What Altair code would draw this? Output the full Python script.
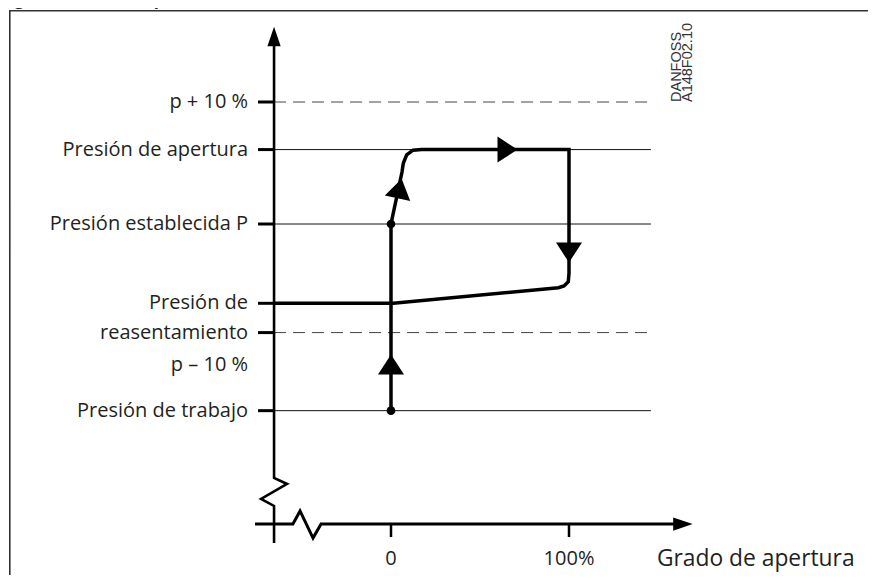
import altair as alt
import pandas as pd

# ---------------- data (x: % opening, y: % of set pressure P) ----------------
X_DOMAIN = [-215.17, 267.98]
Y_DOMAIN = [71.23, 117.705]

label_texts = ["p + 10 %", "Presión de apertura", "Presión establecida P",
               "Presión de", "reasentamiento", "p – 10 %", "Presión de trabajo"]
label_y = [110, 106.1, 100, 93.5, 91.1, 88.44, 84.7]
label_x = -80.3

tick_y = [110, 106.1, 100, 93.5, 91.1, 84.7]

solid_levels = [106.1, 100, 84.7]
dashed_levels = [110, 91.1]
guide_x0 = -65.7
guide_x1 = 146.0

# process curve
proc_x = [0, 0, 6.18, 6.91, 8.82, 12.36, 17.25, 100, 100, 99.6, 97.19, 93.99, 1.29, -65.7]
proc_y = [84.7, 100, 104.26, 104.98, 105.66, 106.05, 106.1, 106.1, 95.96, 95.27, 94.92, 94.78, 93.5, 93.5]

dot_x = [0, 0]
dot_y = [100, 84.7]

arrow_x = [0, 4.83, 65.45, 100]
arrow_y = [88.48, 102.91, 106.1, 97.66]
arrow_angle = [0, 12, 90, 180]

# axes (with break marks)
yaxis_x = [-65.7, -65.7, -58.4, -73.0, -65.7, -65.7]
yaxis_y = [114.8, 79.18, 78.69, 77.46, 76.89, 73.85]
xaxis_x = [-76.4, -55.1, -51.1, -43.8, -39.3, 160.0]
xaxis_y = [75.41, 75.41, 76.48, 74.26, 75.41, 75.41]
axis_arrow_x = [-65.7, 164.0]
axis_arrow_y = [115.37, 75.41]
axis_arrow_angle = [0, 90]

xtick_x = [0, 100]
xtick_labels = ["0", "100%"]
xtick_y0, xtick_y1 = 75.41, 74.34
xlabel_y = 72.54
ytick_x0, ytick_x1 = -74.7, -65.7

x_title = "Grado de apertura"
x_title_x = 149.4

stamp_lines = ["DANFOSS", "A148F02.10"]
stamp_x = [160.4, 166.9]
stamp_y = [110, 110]

title_text = "Figura 1: Alivio de presión SFA"

FONT = "Open Sans"
INK = "#231f20"

# ---------------- helpers ----------------
def X(f="x"):
    return alt.X(f"{f}:Q", scale=alt.Scale(domain=X_DOMAIN, nice=False, zero=False), axis=None)

def Y(f="y"):
    return alt.Y(f"{f}:Q", scale=alt.Scale(domain=Y_DOMAIN, nice=False, zero=False), axis=None)

def polyline(xs, ys, **kw):
    df = pd.DataFrame({"x": xs, "y": ys, "o": range(len(xs))})
    return alt.Chart(df).mark_line(color="black", **kw).encode(x=X(), y=Y(), order="o:Q")

# frame
frame = alt.Chart(pd.DataFrame({"a": [0]})).mark_rect(
    fill=None, stroke="#333333", strokeWidth=1.6
).encode(x=alt.value(1.8), x2=alt.value(900), y=alt.value(2.8), y2=alt.value(640))

# guides
solid_df = pd.DataFrame({"y": solid_levels, "x": guide_x0, "x2": guide_x1})
dashed_df = pd.DataFrame({"y": dashed_levels, "x": guide_x0, "x2": guide_x1 + 1})
solid = alt.Chart(solid_df).mark_rule(color="#111111", strokeWidth=1).encode(
    x=X(), x2="x2:Q", y=Y())
dashed = alt.Chart(dashed_df).mark_rule(color="#444444", strokeWidth=1, strokeDash=[12, 7]).encode(
    x=X(), x2="x2:Q", y=Y())

# y ticks
yt_df = pd.DataFrame({"y": tick_y, "x": ytick_x0, "x2": ytick_x1})
yticks = alt.Chart(yt_df).mark_rule(color="black", strokeWidth=3).encode(x=X(), x2="x2:Q", y=Y())

# x ticks
xt_df = pd.DataFrame({"x": xtick_x, "y": xtick_y0, "y2": xtick_y1})
xticks = alt.Chart(xt_df).mark_rule(color="black", strokeWidth=2.5).encode(x=X(), y=Y(), y2="y2:Q")

# axes
yaxis = polyline(yaxis_x, yaxis_y, strokeWidth=2.6)
xaxis = polyline(xaxis_x, xaxis_y, strokeWidth=3)

axis_arrows = alt.Chart(pd.DataFrame({"x": axis_arrow_x, "y": axis_arrow_y, "a": axis_arrow_angle})).mark_point(
    shape="M0,-1L0.68,1L-0.68,1Z", size=380, filled=True, color="black", opacity=1, strokeWidth=0
).encode(x=X(), y=Y(), angle=alt.Angle("a:Q", scale=None))

# process
proc = polyline(proc_x, proc_y, strokeWidth=3.5)
dots = alt.Chart(pd.DataFrame({"x": dot_x, "y": dot_y})).mark_circle(
    size=75, color="black", opacity=1).encode(x=X(), y=Y())
arrows = alt.Chart(pd.DataFrame({"x": arrow_x, "y": arrow_y, "a": arrow_angle})).mark_point(
    shape="M0,-0.77L1,0.77L-1,0.77Z", size=676, filled=True, color="black", opacity=1, strokeWidth=0
).encode(x=X(), y=Y(), angle=alt.Angle("a:Q", scale=None))

# labels
lab_df = pd.DataFrame({"t": label_texts, "y": label_y, "x": label_x})
labels = alt.Chart(lab_df).mark_text(
    align="right", baseline="middle", font=FONT, fontSize=20, color=INK
).encode(x=X(), y=Y(), text="t:N")

xl_df = pd.DataFrame({"t": xtick_labels, "x": xtick_x, "y": xlabel_y})
xlabels = alt.Chart(xl_df).mark_text(
    align="center", baseline="middle", font=FONT, fontSize=20, color=INK
).encode(x=X(), y=Y(), text="t:N")

xt_title = alt.Chart(pd.DataFrame({"t": [x_title], "x": [x_title_x], "y": [xlabel_y]})).mark_text(
    align="left", baseline="middle", font=FONT, fontSize=22.8, color=INK
).encode(x=X(), y=Y(), text="t:N")

stamp = alt.Chart(pd.DataFrame({"t": stamp_lines, "x": stamp_x, "y": stamp_y})).mark_text(
    align="left", baseline="middle", angle=270, font="Liberation Sans Narrow, Liberation Sans",
    fontSize=14.5, color="#333333"
).encode(x=X(), y=Y(), text="t:N")

title = alt.Chart(pd.DataFrame({"t": [title_text]})).mark_text(
    align="left", baseline="alphabetic", font=FONT, fontWeight="bold", fontSize=17, color=INK
).encode(x=alt.value(-8), y=alt.value(-3), text="t:N")

chart = alt.layer(
    frame, solid, dashed, yticks, xticks, yaxis, xaxis, axis_arrows,
    proc, dots, arrows, labels, xlabels, xt_title, stamp, title
).properties(
    width=860, height=567, autosize=alt.AutoSizeParams(type="none"), padding=0
).configure_view(stroke=None)

chart.save("out.html", embed_options={"renderer": "svg", "actions": False})
